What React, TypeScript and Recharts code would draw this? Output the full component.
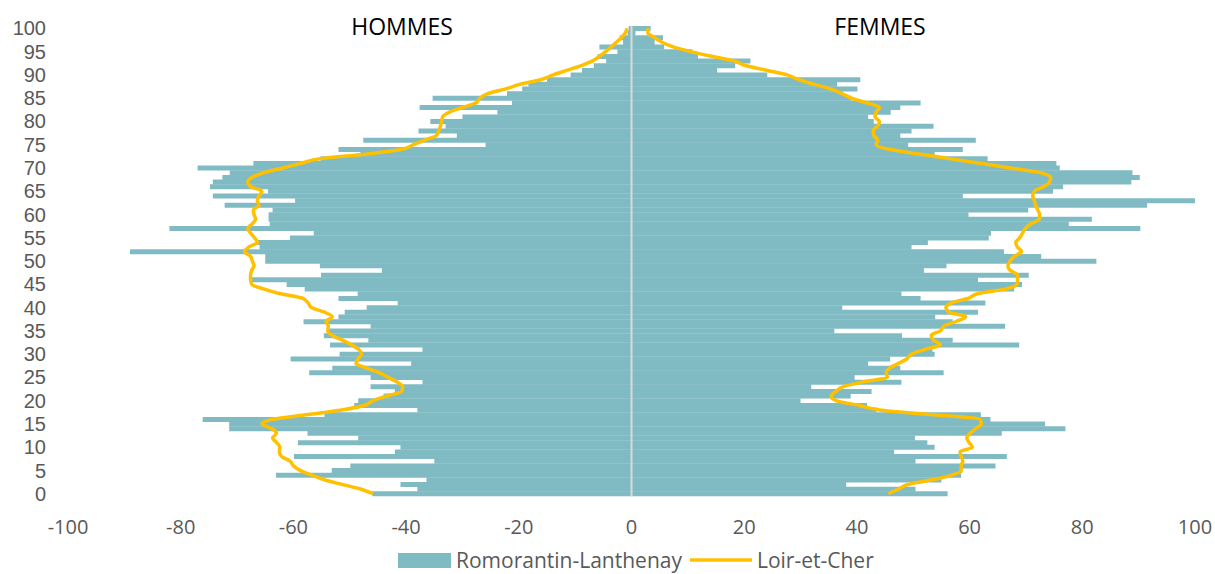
import { ComposedChart, Bar, Line, XAxis, YAxis, ReferenceLine, Legend } from 'recharts';

// ages 0..100, bottom to top
const ages = Array.from({ length: 101 }, (_, i) => i);

// Romorantin-Lanthenay, hommes (negative side)
const hommes = [
  -46, -38, -41, -36.4, -63.1, -53.2, -49.9, -35, -59.9, -42,
  -41, -59.2, -48.5, -57.5, -71.4, -71.4, -76.1, -54.5, -38, -49.2,
  -48.5, -44, -42, -46.3, -37.1, -46.3, -57.2, -53.1, -39.1, -60.5,
  -51.8, -37.1, -53.5, -46.7, -54.6, -53.8, -46.3, -58.2, -52, -50.9,
  -47, -41.5, -52, -48.6, -58, -61.2, -67.6, -55.1, -44.3, -55.3,
  -65, -65, -89, -66, -66.4, -60.6, -56.4, -82, -64.2, -64.4,
  -64.4, -63.7, -72.2, -59.7, -74.3, -64.5, -74.8, -74.3, -72.6, -71.3,
  -77, -67.1, -55.2, -48.1, -52, -25.9, -47.6, -31, -37.8, -33,
  -35.7, -30, -23.8, -37.6, -21.2, -35.3, -22.1, -19.4, -18.3, -15,
  -10.8, -8.8, -6.7, -4.5, -6, -2.5, -5.7, -1.5, -2.1, -0.7,
  -0.5,
];

// Romorantin-Lanthenay, femmes
const femmes = [
  56.1, 50.4, 38.1, 55, 58.5, 58.7, 64.6, 50.4, 66.6, 46.6,
  53.8, 52.5, 50.3, 65.7, 77, 73.4, 63.7, 62, 43.5, 41.8,
  30, 38.9, 42.6, 31.9, 47.9, 39.6, 55.4, 47.7, 42, 45.9,
  53.8, 53.4, 68.8, 57, 48, 36, 66.3, 57, 53.9, 61.5,
  37.4, 62.8, 51.3, 47.9, 67.9, 69.3, 61.5, 70.5, 51.9, 55.9,
  82.5, 72.7, 66.1, 49.7, 52.6, 63.4, 63.8, 90.3, 77.6, 81.7,
  59.8, 70.4, 91.5, 100, 58.8, 74.8, 76.6, 88.7, 90.2, 88.9,
  76, 75.4, 63.2, 53.8, 58.8, 49.1, 61.1, 47.7, 49.7, 53.6,
  43, 42, 46, 47.7, 51.3, 39, 37.5, 40.1, 36.5, 40.6,
  24.1, 15.2, 18.4, 21.1, 11.8, 10.8, 5.8, 4.1, 5.6, 0.7,
  3.4,
];

// Loir-et-Cher, hommes
const loirHommes = [
  -45.9, -48.1, -51.4, -54.5, -56.8, -58.8, -60, -60.6, -62.1, -62.5,
  -62.4, -63, -63.7, -63, -63.9, -65.6, -63.6, -57.4, -51.4, -47.3,
  -45.9, -43.4, -40.8, -40.6, -41.6, -43.2, -44.8, -47, -48.9, -48.5,
  -47.9, -48.4, -49.7, -51.3, -53.1, -53.9, -53.8, -54.2, -53.1, -54.5,
  -56.8, -57.4, -58.4, -62.5, -65.3, -67.4, -67.6, -67.6, -67.4, -67,
  -67.3, -67.6, -68.7, -67.9, -66.4, -66.9, -67.6, -68.1, -67.3, -66.7,
  -67, -67.1, -66.1, -66.4, -66.1, -65.6, -67.6, -68.1, -67.3, -65.2,
  -61.9, -58.6, -55.2, -46.9, -40.8, -38.7, -36.7, -34.6, -34.2, -33.9,
  -33.7, -33.5, -32.3, -30, -27.6, -26.9, -25.4, -22.3, -19.7, -16,
  -13.9, -11.4, -8.9, -6.9, -5.7, -4.6, -3.6, -2.7, -1.8, -1.1,
  -0.8,
];

// Loir-et-Cher, femmes
const loirFemmes = [
  45.6, 47.4, 49.1, 53.4, 56.8, 58.5, 58.5, 58.8, 58.5, 58.3,
  60.5, 59.9, 59.5, 60.1, 61.1, 62.1, 61.8, 53.1, 44, 40.3,
  36.3, 35.4, 36.3, 37.6, 41, 45.4, 45.2, 45.8, 47.4, 48.9,
  49.7, 52.1, 54.8, 53.6, 53.2, 54.8, 55.4, 57.6, 59.3, 56.4,
  55.8, 56.8, 59.8, 61.5, 66.5, 68.4, 68.5, 68.5, 67.2, 66.8,
  67.2, 67.9, 69.2, 68.5, 68.2, 68.9, 69.4, 69.9, 70.9, 72.4,
  72.4, 72.1, 71.7, 71.5, 71.2, 71.5, 73.2, 74.2, 74.4, 72.5,
  67.2, 61.8, 56.4, 51, 45.7, 43.4, 43.7, 43, 42.9, 43.7,
  44, 43.2, 43.4, 44, 41.7, 39, 37.3, 35.3, 32.3, 29.6,
  27.6, 23.9, 20.2, 18.2, 14.2, 10.5, 7.4, 5.4, 4.1, 2.9,
  2.9,
];

const xTicks = [-100, -80, -60, -40, -20, 0, 20, 40, 60, 80, 100];

const data = ages.map((age, i) => ({
  age,
  hommes: hommes[i],
  femmes: femmes[i],
  loirH: loirHommes[i],
  loirF: loirFemmes[i],
}));

const TEAL = '#80BBC4';
const GOLD = '#FFC000';
const FONT = '"Open Sans", sans-serif';
// tighter font for the dense age labels so they don't collide
const AGE_FONT = '"Liberation Sans", Arial, sans-serif';

function renderLegend() {
  return (
    <div style={{ height: 34, display: 'flex', alignItems: 'center', paddingTop: 6, paddingLeft: 398, boxSizing: 'border-box', fontFamily: FONT, fontSize: 21, color: '#595959' }}>
      <span style={{ display: 'inline-block', width: 53, height: 15, background: TEAL, marginRight: 5 }} />
      <span>Romorantin-Lanthenay</span>
      <svg width={62} height={8} style={{ marginLeft: 8, marginRight: 5 }}>
        <line x1={0} y1={4} x2={62} y2={4} stroke={GOLD} strokeWidth={3.5} />
      </svg>
      <span>Loir-et-Cher</span>
    </div>
  );
}

export default function App() {
  return (
    <div style={{ position: 'absolute', left: 0, top: 0, width: 1215, height: 574, background: '#fff', fontFamily: FONT }}>
      <ComposedChart
        width={1215}
        height={574}
        data={data}
        layout="vertical"
        stackOffset="sign"
        barCategoryGap={0}
        margin={{ top: 26, right: 20, bottom: 0, left: 0 }}
      >
        <XAxis
          type="number"
          domain={[-100, 100]}
          ticks={xTicks}
          axisLine={false}
          tickLine={false}
          tickMargin={18}
          height={44}
          tick={{ fill: '#595959', fontSize: 20, fontFamily: FONT }}
        />
        <YAxis
          type="category"
          dataKey="age"
          reversed
          interval={4}
          width={68}
          axisLine={false}
          tickLine={false}
          tickMargin={16}
          tick={{ fill: '#595959', fontSize: 20, fontFamily: AGE_FONT }}
        />
        <Bar dataKey="hommes" stackId="pop" fill={TEAL} isAnimationActive={false} />
        <Bar dataKey="femmes" stackId="pop" fill={TEAL} isAnimationActive={false} />
        <ReferenceLine x={0} stroke="#D9D9D9" strokeWidth={2} />
        <Line dataKey="loirH" type="monotone" stroke={GOLD} strokeWidth={3.5} dot={false} activeDot={false} isAnimationActive={false} />
        <Line dataKey="loirF" type="monotone" stroke={GOLD} strokeWidth={3.5} dot={false} activeDot={false} isAnimationActive={false} />
        <Legend verticalAlign="bottom" height={34} content={renderLegend} wrapperStyle={{ left: 0, width: 1215 }} />
      </ComposedChart>
      <div style={{ position: 'absolute', left: 402, top: 10, transform: 'translateX(-50%)', fontSize: 23, color: '#000' }}>HOMMES</div>
      <div style={{ position: 'absolute', left: 880, top: 10, transform: 'translateX(-50%)', fontSize: 23, color: '#000' }}>FEMMES</div>
    </div>
  );
}
